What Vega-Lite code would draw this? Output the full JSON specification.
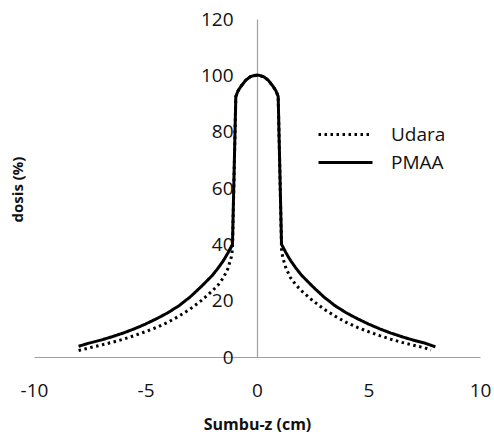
{
  "$schema": "https://vega.github.io/schema/vega-lite/v6.json",
  "width": 446,
  "height": 338,
  "autosize": {"type": "none"},
  "padding": {"left": 34, "top": 19, "right": 14, "bottom": 77},
  "background": "white",
  "config": {"view": {"stroke": null}, "font": "Open Sans"},
  "data": {
    "values": [
      {"series": "PMAA", "z": -8, "dose": 3.8},
      {"series": "PMAA", "z": -7.5, "dose": 5.0},
      {"series": "PMAA", "z": -7, "dose": 6.0},
      {"series": "PMAA", "z": -6.5, "dose": 7.2},
      {"series": "PMAA", "z": -6, "dose": 8.5},
      {"series": "PMAA", "z": -5.5, "dose": 10.0},
      {"series": "PMAA", "z": -5, "dose": 11.7},
      {"series": "PMAA", "z": -4.5, "dose": 13.6},
      {"series": "PMAA", "z": -4, "dose": 15.7},
      {"series": "PMAA", "z": -3.5, "dose": 18.2},
      {"series": "PMAA", "z": -3, "dose": 21.3},
      {"series": "PMAA", "z": -2.5, "dose": 25.0},
      {"series": "PMAA", "z": -2, "dose": 29.0},
      {"series": "PMAA", "z": -1.75, "dose": 31.5},
      {"series": "PMAA", "z": -1.5, "dose": 34.3},
      {"series": "PMAA", "z": -1.3, "dose": 37.0},
      {"series": "PMAA", "z": -1.1, "dose": 40.0},
      {"series": "PMAA", "z": -0.95, "dose": 92.5},
      {"series": "PMAA", "z": -0.85, "dose": 94.5},
      {"series": "PMAA", "z": -0.7, "dose": 96.3},
      {"series": "PMAA", "z": -0.5, "dose": 98.3},
      {"series": "PMAA", "z": -0.3, "dose": 99.5},
      {"series": "PMAA", "z": -0.1, "dose": 100},
      {"series": "PMAA", "z": 0, "dose": 100},
      {"series": "PMAA", "z": 0.1, "dose": 100},
      {"series": "PMAA", "z": 0.3, "dose": 99.5},
      {"series": "PMAA", "z": 0.5, "dose": 98.3},
      {"series": "PMAA", "z": 0.7, "dose": 96.3},
      {"series": "PMAA", "z": 0.85, "dose": 94.5},
      {"series": "PMAA", "z": 0.95, "dose": 92.5},
      {"series": "PMAA", "z": 1.1, "dose": 40.0},
      {"series": "PMAA", "z": 1.3, "dose": 37.0},
      {"series": "PMAA", "z": 1.5, "dose": 34.3},
      {"series": "PMAA", "z": 1.75, "dose": 31.5},
      {"series": "PMAA", "z": 2, "dose": 29.0},
      {"series": "PMAA", "z": 2.5, "dose": 25.0},
      {"series": "PMAA", "z": 3, "dose": 21.3},
      {"series": "PMAA", "z": 3.5, "dose": 18.2},
      {"series": "PMAA", "z": 4, "dose": 15.7},
      {"series": "PMAA", "z": 4.5, "dose": 13.6},
      {"series": "PMAA", "z": 5, "dose": 11.7},
      {"series": "PMAA", "z": 5.5, "dose": 10.0},
      {"series": "PMAA", "z": 6, "dose": 8.5},
      {"series": "PMAA", "z": 6.5, "dose": 7.2},
      {"series": "PMAA", "z": 7, "dose": 6.0},
      {"series": "PMAA", "z": 7.5, "dose": 5.0},
      {"series": "PMAA", "z": 8, "dose": 3.6},
      {"series": "Udara", "z": -8, "dose": 2.3},
      {"series": "Udara", "z": -7.5, "dose": 3.3},
      {"series": "Udara", "z": -7, "dose": 4.2},
      {"series": "Udara", "z": -6.5, "dose": 5.2},
      {"series": "Udara", "z": -6, "dose": 6.3},
      {"series": "Udara", "z": -5.5, "dose": 7.6},
      {"series": "Udara", "z": -5, "dose": 9.0},
      {"series": "Udara", "z": -4.5, "dose": 10.5},
      {"series": "Udara", "z": -4, "dose": 12.3},
      {"series": "Udara", "z": -3.5, "dose": 14.5},
      {"series": "Udara", "z": -3, "dose": 17.0},
      {"series": "Udara", "z": -2.5, "dose": 20.0},
      {"series": "Udara", "z": -2, "dose": 23.5},
      {"series": "Udara", "z": -1.75, "dose": 25.5},
      {"series": "Udara", "z": -1.5, "dose": 28.2},
      {"series": "Udara", "z": -1.3, "dose": 31.5},
      {"series": "Udara", "z": -1.15, "dose": 35.5},
      {"series": "Udara", "z": -1.1, "dose": 38.5},
      {"series": "Udara", "z": -0.95, "dose": 92.5},
      {"series": "Udara", "z": -0.85, "dose": 94.5},
      {"series": "Udara", "z": -0.7, "dose": 96.3},
      {"series": "Udara", "z": -0.5, "dose": 98.3},
      {"series": "Udara", "z": -0.3, "dose": 99.5},
      {"series": "Udara", "z": 0, "dose": 100},
      {"series": "Udara", "z": 0.3, "dose": 99.5},
      {"series": "Udara", "z": 0.5, "dose": 98.3},
      {"series": "Udara", "z": 0.7, "dose": 96.3},
      {"series": "Udara", "z": 0.85, "dose": 94.5},
      {"series": "Udara", "z": 0.95, "dose": 92.5},
      {"series": "Udara", "z": 1.1, "dose": 38.5},
      {"series": "Udara", "z": 1.15, "dose": 35.5},
      {"series": "Udara", "z": 1.3, "dose": 31.5},
      {"series": "Udara", "z": 1.5, "dose": 28.2},
      {"series": "Udara", "z": 1.75, "dose": 25.5},
      {"series": "Udara", "z": 2, "dose": 23.5},
      {"series": "Udara", "z": 2.5, "dose": 20.0},
      {"series": "Udara", "z": 3, "dose": 17.0},
      {"series": "Udara", "z": 3.5, "dose": 14.5},
      {"series": "Udara", "z": 4, "dose": 12.3},
      {"series": "Udara", "z": 4.5, "dose": 10.5},
      {"series": "Udara", "z": 5, "dose": 9.0},
      {"series": "Udara", "z": 5.5, "dose": 7.6},
      {"series": "Udara", "z": 6, "dose": 6.3},
      {"series": "Udara", "z": 6.5, "dose": 5.2},
      {"series": "Udara", "z": 7, "dose": 4.2},
      {"series": "Udara", "z": 7.5, "dose": 3.3},
      {"series": "Udara", "z": 7.8, "dose": 2.5}
    ]
  },
  "mark": {"type": "line", "color": "black", "strokeWidth": 3, "strokeCap": "butt", "strokeJoin": "round"},
  "encoding": {
    "x": {
      "field": "z", "type": "quantitative",
      "scale": {"domain": [-10, 10], "nice": false, "zero": false},
      "axis": {
        "title": "Sumbu-z (cm)",
        "values": [-10, -5, 0, 5, 10],
        "grid": false, "ticks": false, "tickSize": 0,
        "domainColor": "#a0a0a0", "domainWidth": 1.2,
        "labelFontSize": 19, "labelColor": "#111", "labelBaseline": "middle",
        "labelPadding": 33, "labelFlush": false,
        "labelExpr": "toString(datum.value)",
        "titleFontSize": 16, "titleFontWeight": "bold", "titleColor": "#111",
        "titleBaseline": "middle", "titleY": 67
      }
    },
    "y": {
      "field": "dose", "type": "quantitative",
      "scale": {"domain": [0, 120], "nice": false},
      "axis": {
        "title": "dosis (%)",
        "values": [0, 20, 40, 60, 80, 100, 120],
        "offset": -223,
        "grid": false, "ticks": false, "tickSize": 0,
        "domainColor": "#a0a0a0", "domainWidth": 1.2,
        "labelFontSize": 19, "labelColor": "#111", "labelPadding": 24,
        "labelFlush": false,
        "titleFontSize": 15, "titleFontWeight": "bold", "titleColor": "#111",
        "titleX": -240, "titleY": 170, "titleAngle": -90, "titleBaseline": "middle", "titleAlign": "center"
      }
    },
    "strokeDash": {
      "field": "series", "type": "nominal",
      "scale": {"domain": ["Udara", "PMAA"], "range": [[2.5, 3.5], [1, 0]]},
      "legend": {
        "title": null,
        "orient": "none",
        "legendX": 302,
        "legendY": 106,
        "padding": 0,
        "symbolType": "M-4,0H4",
        "symbolSize": 182,
        "symbolStrokeColor": "black",
        "symbolStrokeWidth": 3,
        "labelFontSize": 19,
        "labelColor": "#111",
        "labelOffset": 36,
        "rowPadding": 8
      }
    }
  }
}
